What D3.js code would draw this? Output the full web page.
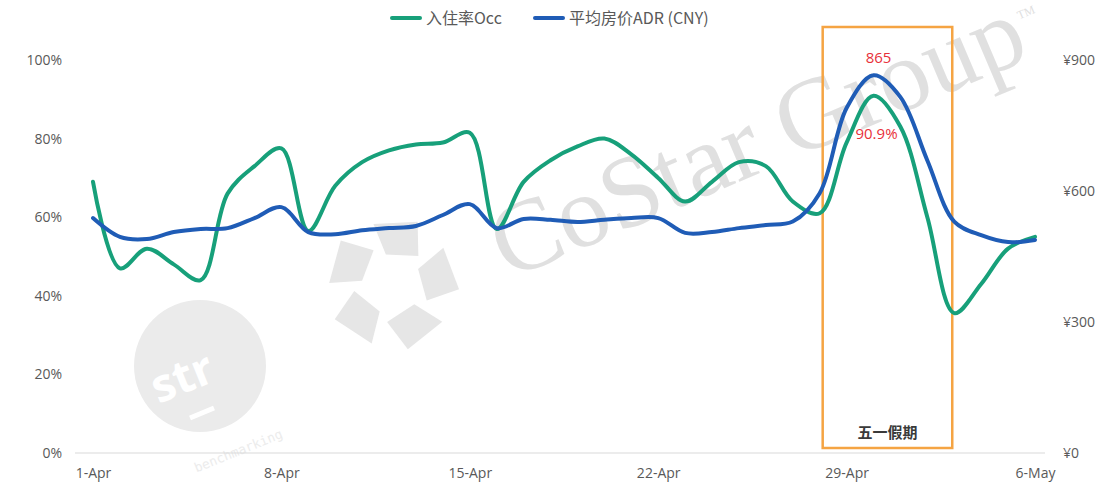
<!DOCTYPE html>
<html>
<head>
<meta charset="utf-8">
<script src="https://cdn.jsdelivr.net/npm/d3@7"></script>
<style>
  body { margin: 0; background: #fff; }
  svg { display: block; }
</style>
</head>
<body>
<svg id="chart" width="1102" height="486"></svg>
<script>
// Daily hotel performance, 1 April – 6 May
const days = [
  "1-Apr","2-Apr","3-Apr","4-Apr","5-Apr","6-Apr","7-Apr","8-Apr","9-Apr","10-Apr",
  "11-Apr","12-Apr","13-Apr","14-Apr","15-Apr","16-Apr","17-Apr","18-Apr","19-Apr","20-Apr",
  "21-Apr","22-Apr","23-Apr","24-Apr","25-Apr","26-Apr","27-Apr","28-Apr","29-Apr","30-Apr",
  "1-May","2-May","3-May","4-May","5-May","6-May"
];
// Occupancy, %
const occ = [
  69, 47, 52, 48, 44, 66, 73, 77.5, 56.5, 68,
  74, 77, 78.5, 79, 81.5, 57, 69, 74.5, 78, 80,
  76, 70, 64, 69, 74, 73, 64, 61, 79, 90.9,
  83, 60, 35.6, 43, 52, 55
];
// Average daily rate, CNY
const adr = [
  538, 495, 490, 506, 513, 515, 538, 563, 506, 501,
  510, 515, 520, 545, 570, 515, 536, 534, 529, 534,
  538, 538, 504, 506, 515, 522, 530, 595, 790, 865,
  815, 670, 530, 499, 483, 488
];
const xTickLabels = ["1-Apr", "8-Apr", "15-Apr", "22-Apr", "29-Apr", "6-May"];
const occTicks = [0, 20, 40, 60, 80, 100];
const adrTicks = [0, 300, 600, 900];
const seriesNames = ["入住率Occ", "平均房价ADR (CNY)"];
const holidayRange = ["28-Apr", "3-May"];
const holidayLabel = "五一假期";
const peakDay = "30-Apr";

const GREEN = "#17a07a", BLUE = "#1f5cb6", ORANGE = "#f5a443", RED = "#e8303a";
const AXIS_TEXT = "#595959";

const svg = d3.select("#chart");

const x = d3.scalePoint().domain(days).range([93, 1035]);
const yL = d3.scaleLinear().domain([0, 100]).range([453, 60]);
const yR = d3.scaleLinear().domain([0, 900]).range([453, 60]);

// ---- background watermark ----
const wm = svg.append("g").attr("class", "watermark");
const brand = wm.append("text")
  .attr("transform", "translate(508,280) rotate(-23)")
  .attr("font-family", "'Liberation Serif', 'DejaVu Serif', serif")
  .attr("font-size", 102)
  .attr("fill", "#e0e0e0");
brand.append("tspan").text("CoStar Group");
brand.append("tspan")
  .attr("font-size", 12)
  .attr("dy", -40)
  .attr("dx", 3)
  .text("TM");
// star-shaped mark made of five tiles
const piece = [[-10, -62], [34, -58], [30, -24], [-2, -30]];
const starG = wm.append("g").attr("transform", "translate(392,284)");
for (let k = 0; k < 5; k++) {
  starG.append("polygon")
    .attr("points", piece.map(p => p.join(",")).join(" "))
    .attr("transform", `rotate(${k * 72 - 8})`)
    .attr("fill", "#e6e6e6");
}
// circular badge
wm.append("circle").attr("cx", 200).attr("cy", 366).attr("r", 66).attr("fill", "#ebebeb");
wm.append("text")
  .attr("transform", "translate(188,392) rotate(-22)")
  .attr("text-anchor", "middle")
  .attr("font-family", "'Open Sans', sans-serif")
  .attr("font-weight", 700)
  .attr("font-size", 46)
  .attr("fill", "#fff")
  .text("str");
wm.append("line")
  .attr("x1", 190).attr("y1", 418).attr("x2", 214).attr("y2", 408)
  .attr("stroke", "#fff").attr("stroke-width", 5);
wm.append("text")
  .attr("transform", "translate(240,455) rotate(-22)")
  .attr("text-anchor", "middle")
  .attr("font-family", "'DejaVu Sans Mono', monospace")
  .attr("font-size", 13)
  .attr("fill", "#ececec")
  .text("benchmarking");

// ---- baseline ----
svg.append("line")
  .attr("x1", 75).attr("x2", 1045)
  .attr("y1", yL(0)).attr("y2", yL(0))
  .attr("stroke", "#d9d9d9").attr("stroke-width", 1);

// ---- axes ----
function styleAxis(g) {
  g.select(".domain").remove();
  g.selectAll("text")
    .attr("fill", AXIS_TEXT)
    .attr("font-family", "'Open Sans', 'Noto Sans', sans-serif")
    .attr("font-size", 14);
}
svg.append("g")
  .attr("transform", "translate(62,0)")
  .call(d3.axisLeft(yL).tickValues(occTicks).tickFormat(d => d + "%").tickSize(0).tickPadding(0))
  .call(styleAxis);
svg.append("g")
  .attr("transform", "translate(1063,0)")
  .call(d3.axisRight(yR).tickValues(adrTicks).tickFormat(d => "¥" + d).tickSize(0).tickPadding(0))
  .call(styleAxis);
svg.append("g")
  .attr("transform", `translate(0,${yL(0)})`)
  .call(d3.axisBottom(x).tickValues(xTickLabels).tickSize(0).tickPadding(15))
  .call(styleAxis);

// ---- holiday highlight box ----
const boxX0 = x(holidayRange[0]) + 3, boxX1 = x(holidayRange[1]) - 2;
svg.append("rect")
  .attr("x", boxX0).attr("y", 27)
  .attr("width", boxX1 - boxX0).attr("height", 448 - 27)
  .attr("fill", "none")
  .attr("stroke", ORANGE).attr("stroke-width", 2.5);
svg.append("text")
  .attr("x", (boxX0 + boxX1) / 2).attr("y", 438)
  .attr("text-anchor", "middle")
  .attr("font-family", "'Noto Sans CJK SC', sans-serif")
  .attr("font-weight", 700)
  .attr("font-size", 15)
  .attr("fill", "#3a3a3a")
  .text(holidayLabel);

// ---- lines ----
const occLine = d3.line()
  .x((d, i) => x(days[i]))
  .y(d => yL(d))
  .curve(d3.curveCatmullRom.alpha(0.5));
const adrLine = d3.line()
  .x((d, i) => x(days[i]))
  .y(d => yR(d))
  .curve(d3.curveCatmullRom.alpha(0.5));

svg.append("path")
  .datum(occ)
  .attr("d", occLine)
  .attr("fill", "none")
  .attr("stroke", GREEN).attr("stroke-width", 4)
  .attr("stroke-linejoin", "round").attr("stroke-linecap", "round");
svg.append("path")
  .datum(adr)
  .attr("d", adrLine)
  .attr("fill", "none")
  .attr("stroke", BLUE).attr("stroke-width", 4)
  .attr("stroke-linejoin", "round").attr("stroke-linecap", "round");

// ---- peak value labels ----
const pi = days.indexOf(peakDay);
svg.append("text")
  .attr("x", x(peakDay) + 5).attr("y", yR(adr[pi]) - 12)
  .attr("text-anchor", "middle")
  .attr("font-family", "'Open Sans', sans-serif")
  .attr("font-size", 15)
  .attr("fill", RED)
  .text(adr[pi]);
svg.append("text")
  .attr("x", x(peakDay) + 3).attr("y", yL(occ[pi]) + 43)
  .attr("text-anchor", "middle")
  .attr("font-family", "'Open Sans', sans-serif")
  .attr("font-size", 15)
  .attr("fill", RED)
  .text(occ[pi].toFixed(1) + "%");

// ---- legend ----
const legend = svg.append("g").attr("transform", "translate(0,18)");
const legendItems = [
  { name: seriesNames[0], color: GREEN, x: 392 },
  { name: seriesNames[1], color: BLUE, x: 535 }
];
legendItems.forEach(it => {
  legend.append("line")
    .attr("x1", it.x).attr("x2", it.x + 28)
    .attr("y1", 0).attr("y2", 0)
    .attr("stroke", it.color).attr("stroke-width", 4).attr("stroke-linecap", "round");
  legend.append("text")
    .attr("x", it.x + 34).attr("y", 6)
    .attr("font-family", "'Noto Sans CJK SC', 'Noto Sans', sans-serif")
    .attr("font-size", 16)
    .attr("fill", AXIS_TEXT)
    .text(it.name);
});
</script>
</body>
</html>
